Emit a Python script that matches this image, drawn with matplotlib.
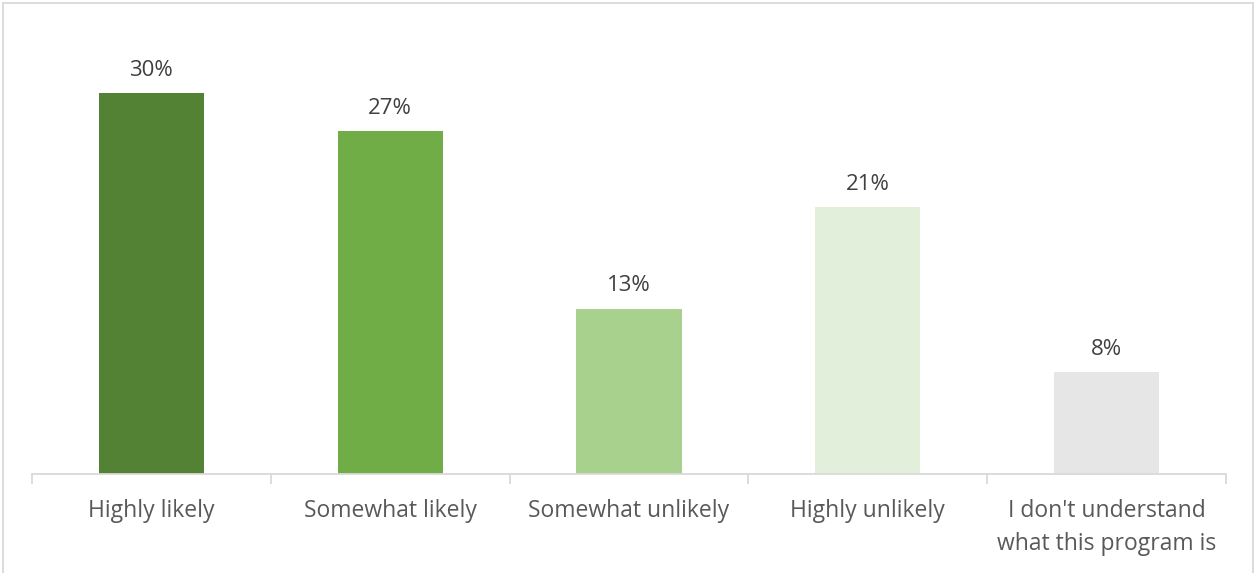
import matplotlib.pyplot as plt
from matplotlib.patches import Rectangle

# Survey responses and their shares
categories = ["Highly likely", "Somewhat likely", "Somewhat unlikely",
              "Highly unlikely", "I don't understand\nwhat this program is"]
shares = [30, 27, 13, 21, 8]
colors = ["#548235", "#70AD47", "#A9D18E", "#E2EFDA", "#E7E6E6"]

plt.rcParams['font.family'] = ['Open Sans', 'DejaVu Sans']

W, H = 1256, 573
fig = plt.figure(figsize=(W / 100, H / 100), dpi=100)
ax = fig.add_axes([32 / W, 99 / H, 1194 / W, 444 / H])

x = range(len(categories))
ax.bar(x, shares, width=0.44, color=colors)

# Value labels above each bar
for i, v in enumerate(shares):
    ax.annotate(f"{v}%", (i, v), xytext=(0, 9), textcoords="offset points",
                ha="center", va="bottom", fontsize=16, color="#404040")

ax.set_xlim(-0.5, len(categories) - 0.5)
ax.set_ylim(0, 444 / 12.7)
ax.set_yticks([])
ax.set_xticks(list(x))
ax.set_xticklabels(categories, fontsize=16.5, color="#595959", linespacing=1.5)
ax.tick_params(axis="x", which="major", length=0, pad=18)
ax.set_xticks([i - 0.5 for i in range(len(categories) + 1)], minor=True)
ax.tick_params(axis="x", which="minor", length=7, width=1.3, color="#D9D9D9")
for s in ["top", "left", "right"]:
    ax.spines[s].set_visible(False)
ax.spines["bottom"].set_color("#D9D9D9")
ax.spines["bottom"].set_linewidth(1.3)

# Chart area border
fig.patches.append(Rectangle((2.5 / W, -0.05), (1250.5) / W, (570 / H) + 0.05,
                             transform=fig.transFigure, fill=False,
                             edgecolor="#D9D9D9", linewidth=1.3))

fig.savefig("out.png", dpi=100)
